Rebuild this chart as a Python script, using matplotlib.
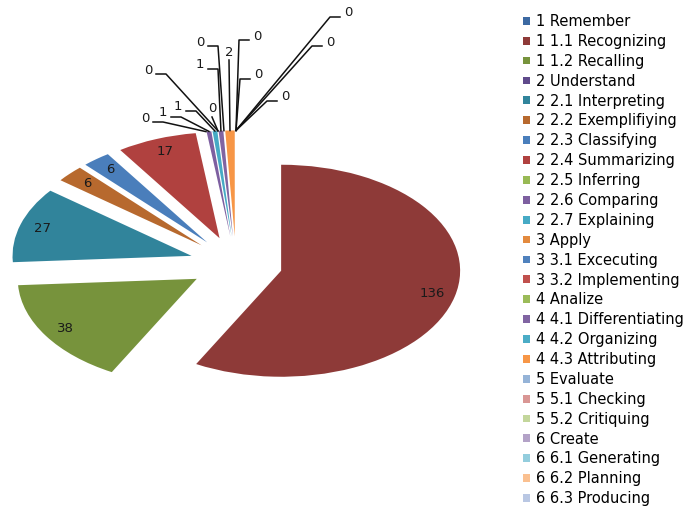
import numpy as np
import matplotlib.pyplot as plt

categories = ["1 Remember", "1 1.1 Recognizing", "1 1.2 Recalling", "2 Understand",
              "2 2.1 Interpreting", "2 2.2 Exemplifiying", "2 2.3 Classifying",
              "2 2.4 Summarizing", "2 2.5 Inferring", "2 2.6 Comparing",
              "2 2.7 Explaining", "3 Apply", "3 3.1 Excecuting", "3 3.2 Implementing",
              "4 Analize", "4 4.1 Differentiating", "4 4.2 Organizing",
              "4 4.3 Attributing", "5 Evaluate", "5 5.1 Checking", "5 5.2 Critiquing",
              "6 Create", "6 6.1 Generating", "6 6.2 Planning", "6 6.3 Producing"]
counts = [0, 136, 38, 0, 27, 6, 6, 17, 0, 1, 1, 0, 0, 0, 0, 1, 0, 2,
          0, 0, 0, 0, 0, 0, 0]
colors = ["#3C69A2", "#8E3A38", "#77933C", "#5F4A8B", "#31849B", "#B7692E",
          "#4A7EBB", "#B0413F", "#98B954", "#7D5FA0", "#46AAC5", "#E38A3E",
          "#4F81BD", "#C0504D", "#9BBB59", "#8064A2", "#4BACC6", "#F79646",
          "#95B3D7", "#D99694", "#C3D69B", "#B3A2C7", "#93CDDD", "#FAC090",
          "#B9C7E3"]

# where the labels of the thin slices sit (text centre, pixels from top-left)
small_labels = {
    "2 2.5 Inferring": (145, 118),
    "2 2.6 Comparing": (163, 113),
    "2 2.7 Explaining": (178, 107),
    "3 Apply": (148, 70),
    "3 3.1 Excecuting": (212, 109),
    "4 4.1 Differentiating": (200, 65),
    "4 4.2 Organizing": (200, 42),
    "4 4.3 Attributing": (229, 52),
    "5 Evaluate": (257, 36),
    "5 5.1 Checking": (258, 75),
    "5 5.2 Critiquing": (285, 97),
    "6 Create": (330, 42),
    "6 6.1 Generating": (348, 13),
}

W, H = 691, 512
CX, CY = 236, 264      # pie centre in pixels
RX, RY = 179, 106      # pie is stretched sideways

total = sum(counts)

fig = plt.figure(figsize=(W / 100, H / 100), dpi=100)
ax = fig.add_axes([0, 0, 1, 1])

wedges, texts, autotexts = ax.pie(
    counts, colors=colors, startangle=90, counterclock=False,
    explode=[0.26] * len(counts), radius=1.0,
    wedgeprops=dict(linewidth=0),
    autopct=lambda p: f"{round(p * total / 100)}" if p * total / 100 >= 5 else "",
    pctdistance=0.87, textprops=dict(fontsize=9.5, color="#1a1a1a"))

ax.set_aspect("auto")
ax.set_xlim(-CX / RX, (W - CX) / RX)
ax.set_ylim(-(H - CY) / RY, CY / RY)
ax.axis("off")


def px2data(px, py):
    return (np.asarray(px) - CX) / RX, (CY - np.asarray(py)) / RY


for w, name, val in zip(wedges, categories, counts):
    if name not in small_labels:
        continue
    tm = np.deg2rad((w.theta1 + w.theta2) / 2)
    cx, cy = w.center
    apx = CX + (cx + w.r * np.cos(tm)) * RX
    apy = CY - (cy + w.r * np.sin(tm)) * RY
    lx, ly = small_labels[name]
    if abs(apx - lx) < 10:
        xs, ys = [lx, apx], [ly + 8, apy]
    else:
        s = np.sign(apx - lx)
        xs, ys = [lx + s * 8, lx + s * 18, apx], [ly + 4, ly + 4, apy]
    dx, dy = px2data(xs, ys)
    ax.plot(dx, dy, color="#111111", lw=1.1)
    tx, ty = px2data(lx, ly)
    ax.text(tx, ty, str(val), ha="center", va="center", fontsize=9.5,
            color="#1a1a1a")

fig.legend(wedges, categories, loc="upper left",
           bbox_to_anchor=(523 / W, 1 - 14 / H), frameon=False, fontsize=10.5,
           handlelength=0.5, handleheight=0.45, handletextpad=0.4,
           labelspacing=0.335, borderpad=0, borderaxespad=0)

fig.savefig("out.png", dpi=100)
